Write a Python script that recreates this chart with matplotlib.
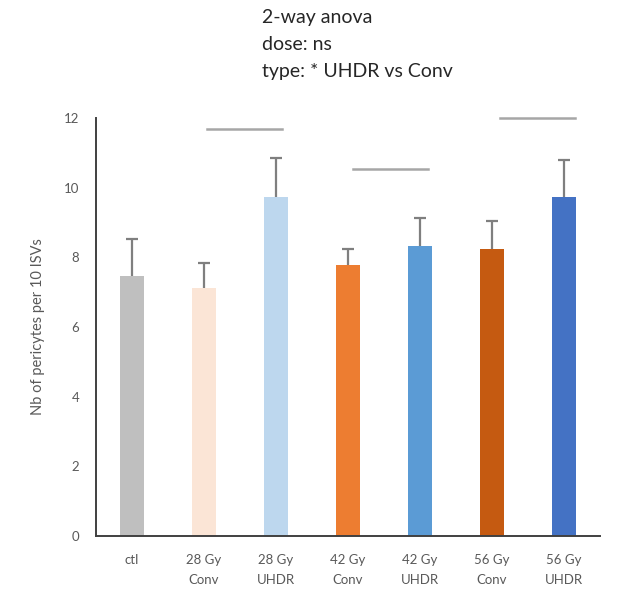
import matplotlib.pyplot as plt
import numpy as np

plt.rcParams['font.family'] = ['Lato', 'DejaVu Sans']

# groups and measured values
groupes = ['ctl', '28 Gy\nConv', '28 Gy\nUHDR', '42 Gy\nConv', '42 Gy\nUHDR', '56 Gy\nConv', '56 Gy\nUHDR']
moyennes = np.array([7.46, 7.12, 9.73, 7.78, 8.33, 8.24, 9.73])
erreurs = np.array([1.07, 0.72, 1.12, 0.46, 0.80, 0.80, 1.07])
couleurs = ['#BFBFBF', '#FBE5D6', '#BDD7EE', '#ED7D31', '#5B9BD5', '#C55A11', '#4472C4']

# comparison bars (start, end, height)
comparaisons = [(1.04, 2.08, 11.69), (3.07, 4.11, 10.54), (5.11, 6.15, 12.0)]

x = np.arange(len(groupes))

fig = plt.figure(figsize=(6.25, 5.95), dpi=100)
ax = fig.add_axes([0.1536, 0.0992, 0.8064, 0.7025])

ax.bar(x, moyennes, width=0.34, color=couleurs, zorder=2)

# upper error bars only, cap at the top
hauts = moyennes + erreurs
ax.vlines(x, moyennes, hauts, color='#7F7F7F', linewidth=1.6, zorder=3)
ax.plot(x, hauts, linestyle='none', marker='_', markersize=8, markeredgewidth=1.6,
        color='#7F7F7F', zorder=3)

for x0, x1, h in comparaisons:
    ax.plot([x0, x1], [h, h], color='#A6A6A6', linewidth=1.8, clip_on=False, zorder=3)

ax.set_xlim(-0.5, 6.5)
ax.set_ylim(0, 12)
ax.set_yticks(np.arange(0, 13, 2))
ax.set_xticks(x)
ax.set_xticklabels(groupes)
ax.tick_params(axis='both', length=0, labelsize=9.5, labelcolor='#595959')
ax.tick_params(axis='x', pad=13)
ax.tick_params(axis='y', pad=12)
for lab in ax.get_xticklabels():
    lab.set_linespacing(1.75)

for s in ['top', 'right']:
    ax.spines[s].set_visible(False)
for s in ['left', 'bottom']:
    ax.spines[s].set_color('#404040')
    ax.spines[s].set_linewidth(1.4)

ax.set_ylabel('Nb of pericytes per 10 ISVs', fontsize=10.5, color='#595959', labelpad=14)

fig.text(0.42, 0.985, '2-way anova\ndose: ns\ntype: * UHDR vs Conv', fontsize=14,
         color='#262626', ha='left', va='top', linespacing=1.7)

plt.savefig('out.png', dpi=100)
